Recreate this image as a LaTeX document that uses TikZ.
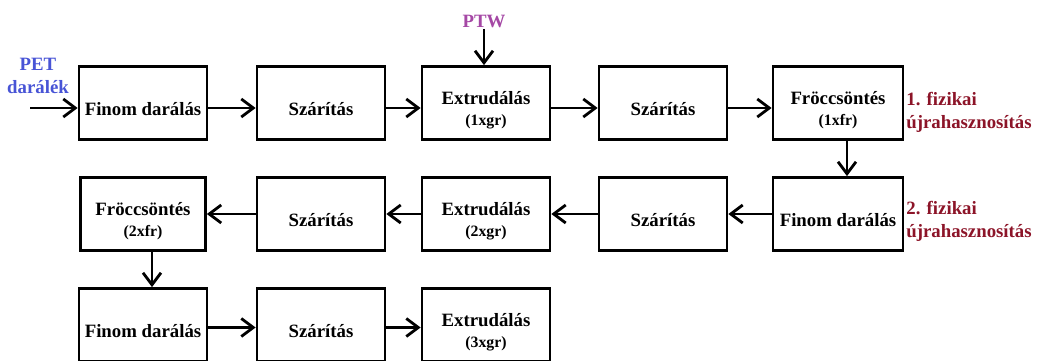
\documentclass[tikz,border=0pt]{standalone}
\usepackage{fontspec}
\setmainfont{Liberation Serif}
\usepackage{xcolor}
\usetikzlibrary{arrows.meta}
\definecolor{petblue}{RGB}{72,84,214}
\definecolor{ptwpurple}{RGB}{165,72,165}
\definecolor{recred}{RGB}{140,20,40}
\newcommand{\bodyfont}{\bfseries\fontsize{10.7}{13}\selectfont}
\newcommand{\subfont}{\fontsize{9}{11}\selectfont}
\tikzset{
  stage/.style={draw, line width=1.6pt, minimum width=2.56cm, minimum height=1.46cm,
    align=center, font=\bodyfont, inner sep=1pt,
    execute at begin node={\rule{0pt}{14pt}}},
  twostage/.style={stage, execute at begin node={\rule{0pt}{28pt}}},
  flow/.style={-{Straight Barb[length=2.4mm,width=3.6mm]}, line width=1.6pt},
  note/.style={font=\bodyfont, align=left, text=recred}
}

\begin{document}
\begin{tikzpicture}[x=0.02cm, y=-0.02cm]
    \useasboundingbox (0,0) rectangle (1038,361);
    \node[stage] (a1) at (143,103) {Finom darálás};
    \node[stage] (a2) at (321,103) {Szárítás};
    \node[twostage] (a3) at (486,103) {Extrudálás\\[-1pt]{\subfont (1xgr)}};
    \node[stage] (a4) at (663,103) {Szárítás};
    \node[twostage, minimum width=2.6cm] (a5) at (838,103) {Fröccsöntés\\[-1pt]{\subfont (1xfr)}};

    \node[stage, minimum width=2.6cm] (b5) at (838,214) {Finom darálás};
    \node[stage] (b4) at (663,214) {Szárítás};
    \node[twostage] (b3) at (486,214) {Extrudálás\\[-1pt]{\subfont (2xgr)}};
    \node[stage] (b2) at (321,214) {Szárítás};
    \node[twostage, minimum width=2.5cm] (b1) at (143,214) {Fröccsöntés\\[-1pt]{\subfont (2xfr)}};

    \node[stage] (c1) at (143,325) {Finom darálás};
    \node[stage] (c2) at (321,325) {Szárítás};
    \node[twostage] (c3) at (486,325) {Extrudálás\\[-1pt]{\subfont (3xgr)}};

    \node[font=\bodyfont, align=center, text=petblue, inner sep=0pt] (pet) at (38,76) {PET\\darálék};
    \node[font=\bodyfont, text=ptwpurple, inner sep=1pt] (ptw) at (484,21) {PTW};
    \node[note, anchor=west, inner sep=0pt] (r1) at (906,112) {1. fizikai\\újrahasznosítás};
    \node[note, anchor=west, inner sep=0pt] (r2) at (906,221) {2. fizikai\\újrahasznosítás};
    \coordinate (in) at (30,108);

    \draw[flow] (in) -- (in -| a1.west);
    \draw[flow] (ptw.south) -- (ptw.south |- a3.north);
    \draw[flow] ([yshift=-0.1cm]a1.east) -- ([yshift=-0.1cm]a2.west);
    \draw[flow] ([yshift=-0.1cm]a2.east) -- ([yshift=-0.1cm]a3.west);
    \draw[flow] ([yshift=-0.1cm]a3.east) -- ([yshift=-0.1cm]a4.west);
    \draw[flow] ([yshift=-0.1cm]a4.east) -- ([yshift=-0.1cm]a5.west);
    \draw[flow] ([xshift=0.18cm]a5.south) -- ([xshift=0.18cm]b5.north);
    \draw[flow] (b5) -- (b4);
    \draw[flow] (b4) -- (b3);
    \draw[flow] (b3) -- (b2);
    \draw[flow] (b2) -- (b1);
    \draw[flow] ([xshift=0.18cm]b1.south) -- ([xshift=0.18cm]c1.north);
    \draw[flow] ([yshift=-0.05cm]c1.east) -- ([yshift=-0.05cm]c2.west);
    \draw[flow] ([yshift=-0.05cm]c2.east) -- ([yshift=-0.05cm]c3.west);
\end{tikzpicture}
\end{document}
